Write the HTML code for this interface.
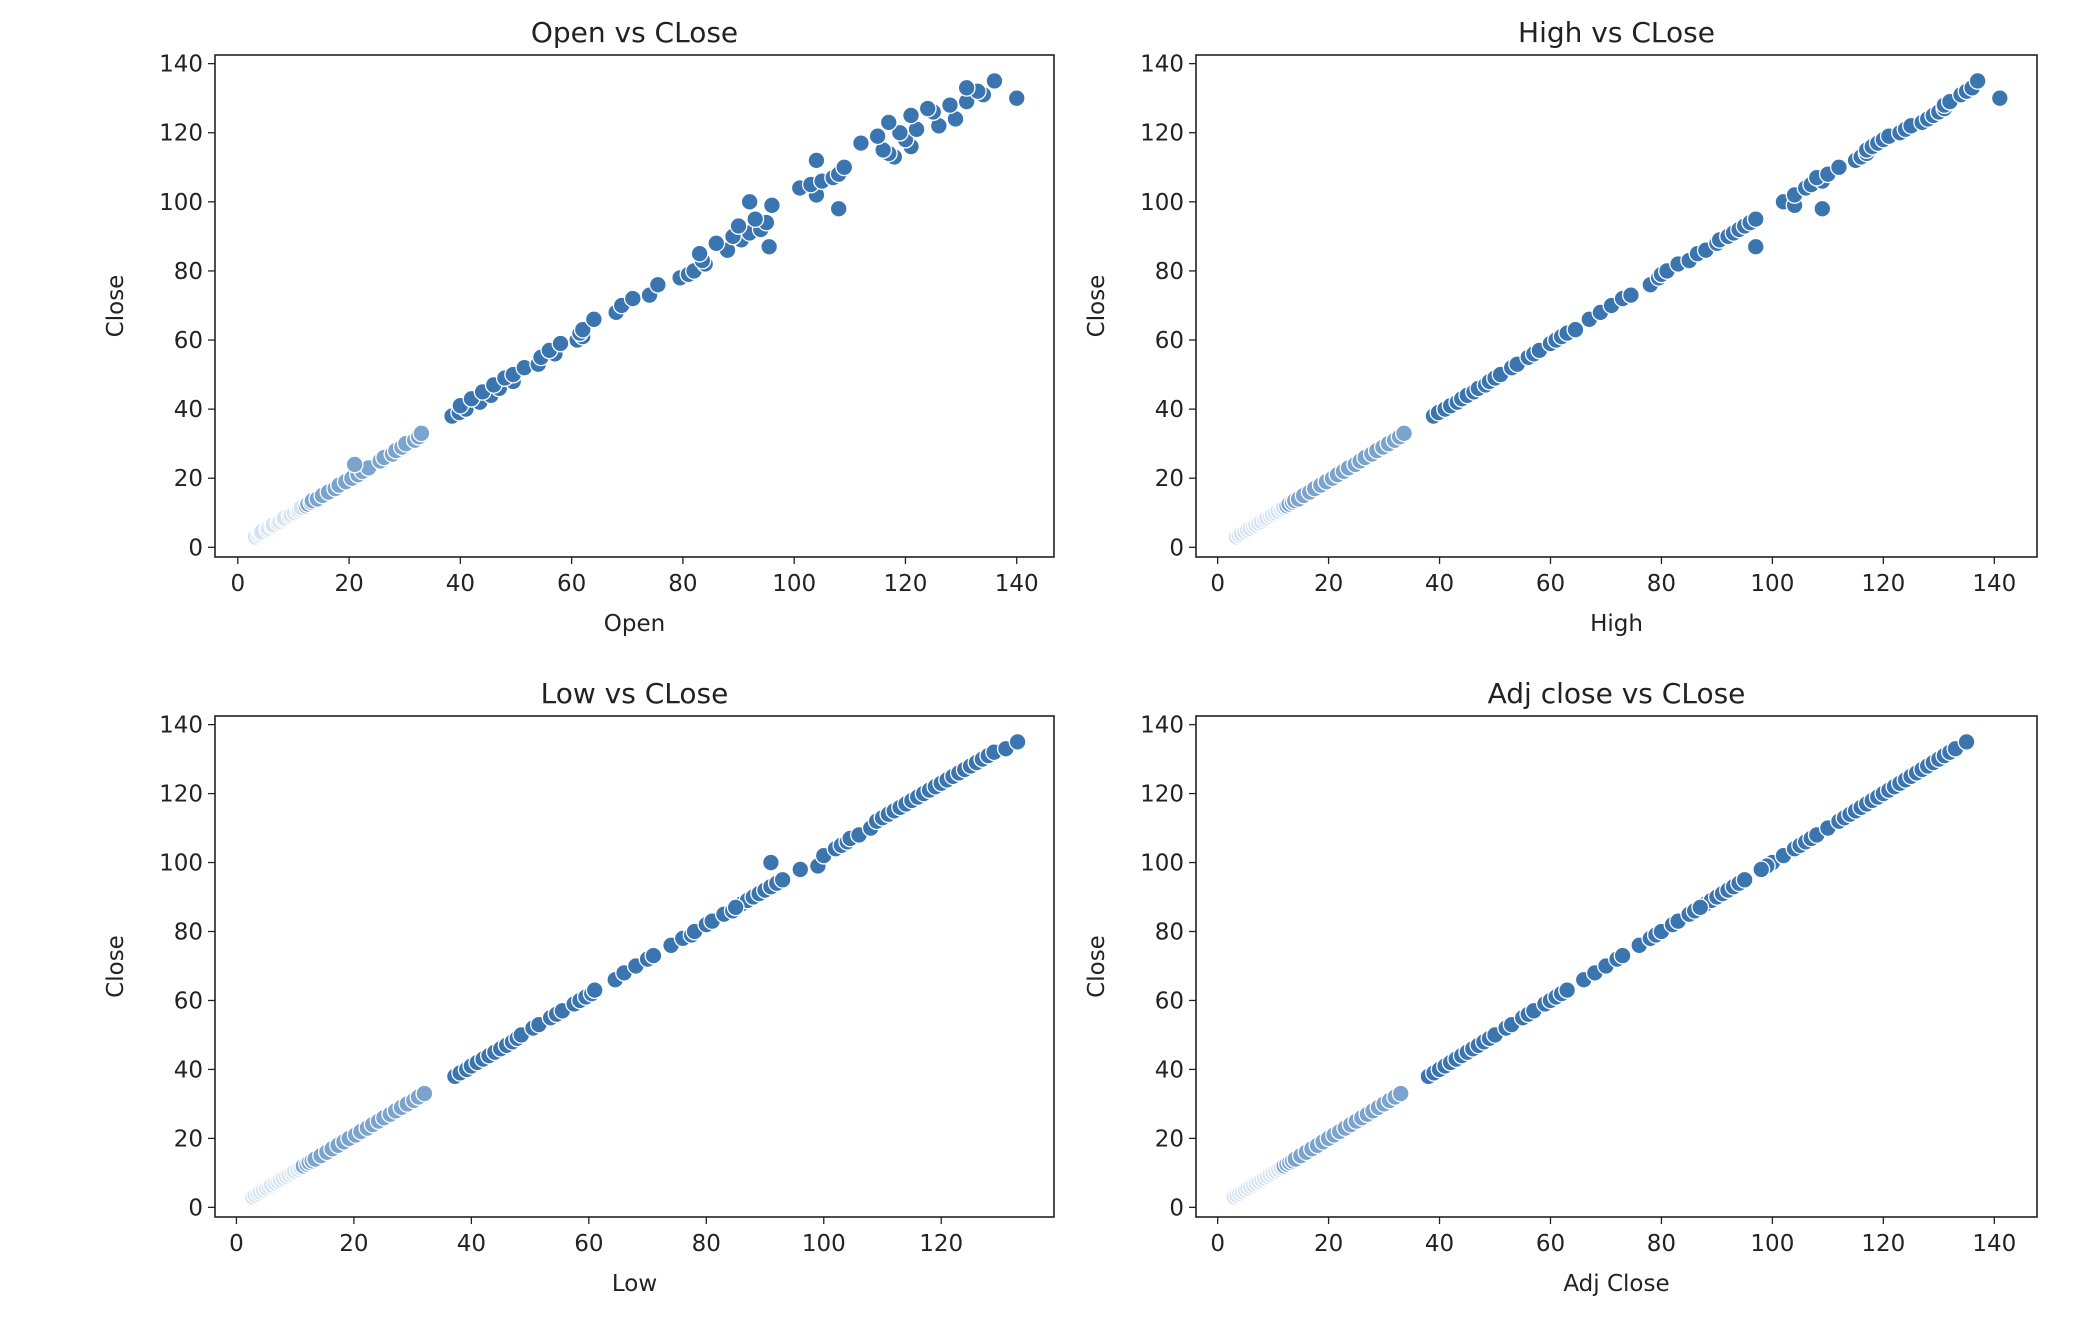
<!DOCTYPE html>
<html><head><meta charset="utf-8">
<style>
html,body{margin:0;padding:0;background:#fff;}
svg{display:block;}
text{font-family:"DejaVu Sans","Liberation Sans",sans-serif;fill:#222;}
</style></head>
<body>
<svg id="fig" width="2092" height="1322" viewBox="0 0 2092 1322" xmlns="http://www.w3.org/2000/svg"></svg>
<script>
const xTicks = [0,20,40,60,80,100,120,140];
const yTicks = [0,20,40,60,80,100,120,140];
const closeVals = [3,3.5,4,4.5,5,5.5,6,6.5,7,7.5,
8,8.5,9,9.5,10,10.5,11,11.5,12,12.5,
13,13.5,14,15,16,17,18,19,20,21,
22,23,24,25,26,27,28,29,30,31,
32,33,38,39,40,41,42,43,44,45,
46,47,48,49,50,52,53,55,56,57,
59,60,61,62,63,66,68,70,72,73,
76,78,79,80,82,83,85,86,88,89,
90,91,92,93,94,95,100,99,102,104,
105,106,107,108,110,112,113,114,115,116,
117,118,119,120,121,122,123,124,125,126,
127,128,129,130,131,132,133,135,98,87];
const openVals = [3.2,3.8,4.1,4.3,5.3,5.6,6.2,6.4,7.3,7.6,
8.2,8.4,9.3,9.6,10.2,10.8,11.1,11.4,12.3,12.6,
13.2,13.4,14.3,15.2,16.3,17.5,18.2,19.4,20.5,21.6,
22.4,23.5,21,25.6,26.3,27.8,28.4,29.5,30.2,31.8,
32.5,33,38.5,39.8,41,40,43.5,42,45.5,44,
47,46,49.5,48,49.5,51.5,54,54.5,57,56,
58,61,62,61.5,62,64,68,69,71,74,
75.5,79.5,81,82,84,83.5,83,88,86,90.5,
89,92,94,90,95,93,92,96,104,101,
103,105,107,108,109,104,118,117,116,121,
112,120,115,119,122,126,117,129,121,125,
124,128,131,140,134,133,131,136,108,95.5];
const highVals = [3.4,3.9,4.3,4.9,5.4,5.9,6.5,6.9,7.4,7.9,
8.5,8.9,9.5,9.9,10.4,10.9,11.5,11.9,12.5,12.9,
13.5,13.9,14.6,15.5,16.6,17.5,18.6,19.6,20.7,21.6,
22.7,23.6,24.8,25.7,26.6,27.8,28.7,29.8,30.8,31.9,
32.8,33.6,38.9,39.8,41,42,43.2,44,45,46.2,
47,48.3,49,50,51,53,54,56,57,58,
60,61,62,63,64.5,67,69,71,73,74.5,
78,79.5,80,81,83,85,86.5,88,90,90.5,
92,93,94,95,96,97,102,104,104,106,
107,109,108,110,112,115,116,117,117,118,
119,120,121,123,124,125,127,128,129,130,
131,131,132,141,134,135,136,137,109,97];
const lowVals = [2.8,3.2,3.7,4.1,4.6,5.1,5.6,6,6.6,7.1,
7.5,8,8.5,9,9.5,9.9,10.5,11,11.4,12,
12.4,12.9,13.4,14.4,15.4,16.3,17.3,18.3,19.2,20.3,
21.2,22.3,23.2,24.2,25.1,26.2,27.1,28.1,29.1,30.2,
31,32,37.2,38.1,39.2,40,41,42,43,44,
45,46,47,47.8,48.5,50.5,51.5,53.5,54.5,55.5,
57.5,58.5,59.5,60.5,61,64.5,66,68,70,71,
74,76,77.5,78,80,81,83,84.5,86,87,
88,89,90,91,92,93,91,99,100,102,
103,104,104.5,106,108,109,110,111,112,113,
114,115,116,117,118,119,120,121,122,123,
124,125,126,127,128,129,131,133,96,85];
const adjVals = closeVals.slice();

const NS="http://www.w3.org/2000/svg";
const fig=document.getElementById('fig');
function el(tag,attrs,parent){const e=document.createElementNS(NS,tag);for(const k in attrs)e.setAttribute(k,attrs[k]);(parent||fig).appendChild(e);return e;}

const panels=[
 {name:'open',title:'Open vs CLose',xlabel:'Open',xs:openVals,L:215,R:1054,T:55,B:557,xmin:-4.1,xmax:146.7,xt:xTicks},
 {name:'high',title:'High vs CLose',xlabel:'High',xs:highVals,L:1196,R:2037,T:55,B:557,xmin:-3.9,xmax:147.7,xt:xTicks},
 {name:'low',title:'Low vs CLose',xlabel:'Low',xs:lowVals,L:215,R:1054,T:716,B:1217,xmin:-3.65,xmax:139.2,xt:[0,20,40,60,80,100,120]},
 {name:'adj-close',title:'Adj close vs CLose',xlabel:'Adj Close',xs:adjVals,L:1196,R:2037,T:716,B:1217,xmin:-3.9,xmax:147.7,xt:xTicks}
];
const ymin=-2.8, ymax=142.5;

panels.forEach(p=>{
  const g=el('g',{});
  
  
  const sx=v=>p.L+(v-p.xmin)/(p.xmax-p.xmin)*(p.R-p.L);
  const sy=v=>p.B-(v-ymin)/(ymax-ymin)*(p.B-p.T);
  const pg=el('g',{},g);
  
  
  p.xs.forEach((xv,i)=>{
    const yv=closeVals[i];
    const fill = yv<12 ? '#d3e2f1' : (yv<34 ? '#7aa3cd' : '#3a75af');
    const c=el('circle',{cx:sx(xv),cy:sy(yv),r:8.3,fill:fill,stroke:'#fff','stroke-width':1.3},pg);
    
    
  });
  const fr=el('rect',{x:p.L,y:p.T,width:p.R-p.L,height:p.B-p.T,fill:'none',stroke:'#222','stroke-width':1.6},g);
  
  
  p.xt.forEach(t=>{
    const x=sx(t);
    el('line',{x1:x,y1:p.B,x2:x,y2:p.B+7,stroke:'#222','stroke-width':1.3},g);
    const tx=el('text',{x:x,y:p.B+34,'text-anchor':'middle','font-size':23},g);
    tx.textContent=t;
    
    
  });
  yTicks.forEach(t=>{
    const y=sy(t);
    el('line',{x1:p.L-7,y1:y,x2:p.L,y2:y,stroke:'#222','stroke-width':1.3},g);
    const ty=el('text',{x:p.L-12,y:y+8,'text-anchor':'end','font-size':23},g);
    ty.textContent=t;
    
    
  });
  const tt=el('text',{x:(p.L+p.R)/2,y:p.T-13,'text-anchor':'middle','font-size':28},g);
  tt.textContent=p.title;
  
  
  const xl=el('text',{x:(p.L+p.R)/2,y:p.B+74,'text-anchor':'middle','font-size':23},g);
  xl.textContent=p.xlabel;
  
  
  const cy=(p.T+p.B)/2, cx=p.L-92;
  const yl=el('text',{x:cx,y:cy,'text-anchor':'middle','font-size':23,transform:`rotate(-90 ${cx} ${cy})`},g);
  yl.textContent='Close';
  
  
});
</script>
</body></html>
